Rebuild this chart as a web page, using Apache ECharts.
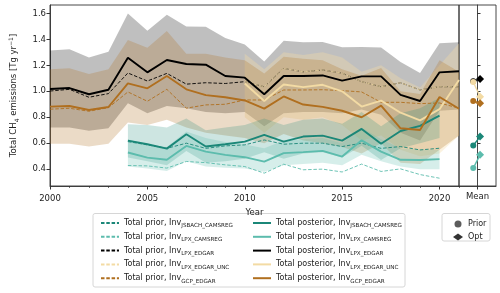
<!DOCTYPE html>
<html><head><meta charset="utf-8">
<script src="https://cdn.jsdelivr.net/npm/echarts@6/dist/echarts.min.js"></script>
<style>html,body{margin:0;padding:0;background:#fff}#c{width:500px;height:293px}</style>
</head><body><div id="c"></div>
<script>
// ---------- data ----------
const yearsAll  = [2000,2001,2002,2003,2004,2005,2006,2007,2008,2009,2010,2011,2012,2013,2014,2015,2016,2017,2018,2019,2020,2021];
const yearsTeal = [2004,2005,2006,2007,2008,2009,2010,2011,2012,2013,2014,2015,2016,2017,2018,2019,2020];
const yearsUnc  = [2010,2011,2012,2013,2014,2015,2016,2017,2018,2019,2020,2021];

// Inv JSBACH_CAMSREG
const jsbPrior = [0.612,0.587,0.560,0.600,0.560,0.579,0.587,0.625,0.592,0.600,0.600,0.574,0.600,0.560,0.574,0.548,0.561];
const jsbPost  = [0.620,0.592,0.558,0.669,0.574,0.592,0.612,0.664,0.612,0.651,0.658,0.620,0.710,0.596,0.694,0.734,0.812];
const jsbLo    = [0.490,0.460,0.430,0.540,0.450,0.460,0.480,0.530,0.480,0.520,0.530,0.490,0.580,0.470,0.560,0.600,0.640];
const jsbHi    = [0.745,0.740,0.720,0.790,0.700,0.720,0.740,0.790,0.740,0.780,0.790,0.750,0.840,0.730,0.830,0.870,0.950];
// Inv LPX_CAMSREG
const lpcPrior = [0.428,0.425,0.408,0.459,0.450,0.433,0.420,0.369,0.438,0.395,0.400,0.378,0.439,0.382,0.402,0.358,0.330];
const lpcPost  = [0.528,0.489,0.472,0.579,0.535,0.510,0.492,0.458,0.523,0.531,0.541,0.497,0.622,0.535,0.472,0.470,0.477];
const lpcLo    = [0.420,0.405,0.385,0.460,0.420,0.410,0.405,0.380,0.430,0.440,0.450,0.430,0.510,0.460,0.420,0.400,0.400];
const lpcHi    = [0.630,0.590,0.570,0.690,0.640,0.610,0.590,0.560,0.620,0.630,0.640,0.600,0.720,0.630,0.560,0.550,0.550];
// Inv LPX_EDGAR
const lpePrior = [1.002,1.015,0.954,0.982,1.141,1.079,1.138,1.055,1.066,1.060,1.074,1.035,1.177,1.150,1.164,1.140,1.074,1.035,1.066,1.010,1.035,1.035];
const lpePost  = [1.018,1.025,0.977,1.012,1.258,1.146,1.241,1.210,1.205,1.118,1.105,0.977,1.118,1.118,1.122,1.082,1.115,1.115,0.972,0.925,1.146,1.154];
const lpeLo    = [0.720,0.720,0.695,0.715,0.908,0.830,0.887,0.870,0.840,0.830,0.840,0.730,0.830,0.840,0.840,0.830,0.860,0.820,0.680,0.620,0.850,0.860];
const lpeHi    = [1.315,1.323,1.260,1.305,1.600,1.466,1.590,1.500,1.497,1.410,1.360,1.230,1.390,1.378,1.380,1.340,1.342,1.338,1.225,1.140,1.370,1.377];
// Inv LPX_EDGAR_UNC
const uncPrior = [1.074,1.035,1.177,1.150,1.164,1.140,1.074,1.035,1.066,1.010,1.035,1.035];
const uncPost  = [1.060,0.925,1.052,1.032,1.050,1.000,0.882,0.928,0.835,0.776,0.862,1.087];
const uncLo    = [0.800,0.680,0.800,0.780,0.800,0.740,0.620,0.660,0.550,0.500,0.520,0.660];
const uncHi    = [1.290,1.170,1.300,1.280,1.300,1.260,1.150,1.200,1.100,1.030,1.200,1.370];
// Inv GCP_EDGAR
const gcpPrior = [0.862,0.869,0.846,0.874,0.995,0.923,1.015,0.870,0.895,0.900,0.933,0.933,1.010,1.010,1.012,1.005,0.995,0.915,0.915,0.905,0.910,0.870];
const gcpPost  = [0.882,0.887,0.856,0.879,1.061,1.023,1.118,1.015,0.970,0.954,0.929,0.866,0.960,0.898,0.880,0.850,0.800,0.889,0.715,0.702,0.956,0.865];
const gcpLo    = [0.595,0.595,0.574,0.595,0.760,0.740,0.780,0.720,0.680,0.660,0.640,0.600,0.670,0.620,0.600,0.570,0.520,0.600,0.450,0.440,0.550,0.660];
const gcpHi    = [1.170,1.177,1.133,1.170,1.395,1.335,1.464,1.290,1.290,1.260,1.240,1.138,1.266,1.250,1.240,1.170,1.120,1.180,1.000,0.980,1.240,1.150];

// means panel (prior, optimised)
const meanPrior = {jsb:0.582, lpc:0.408, lpe:1.078, unc:1.072, gcp:0.925};
const meanOpt   = {jsb:0.651, lpc:0.510, lpe:1.095, unc:0.958, gcp:0.908};

const yTicks = [0.4,0.6,0.8,1.0,1.2,1.4,1.6];
const xTicks = [2000,2005,2010,2015,2020];
const subNames = {jsb:'JSBACH_CAMSREG', lpc:'LPX_CAMSREG', lpe:'LPX_EDGAR', unc:'LPX_EDGAR_UNC', gcp:'GCP_EDGAR'};

// ---------- styles ----------
const COL = {jsb:'#1b8778', lpc:'#5cbcad', lpe:'#000000', unc:'#f3dba4', gcp:'#b06f1f'};
const BAND = {jsb:'rgba(27,135,120,0.22)', lpc:'rgba(92,188,173,0.25)', lpe:'rgba(0,0,0,0.25)', unc:'rgba(243,219,164,0.35)', gcp:'rgba(176,111,31,0.25)'};
const FONT = 'DejaVu Sans';

function zip(xs, ys){ return xs.map((x,i)=>[x, ys[i]]); }
function band(xs, lo, hi, color, z){
  return {type:'custom', xAxisIndex:0, yAxisIndex:0, z:z, silent:true, clip:true,
    data: xs.map((x,i)=>[x, lo[i], hi[i]]),
    encode:{x:0, y:[1,2]},
    renderItem: function(params, api){
      if (params.dataIndex !== 0) return null;
      const pts = [];
      for (let i=0;i<xs.length;i++) pts.push(api.coord([xs[i], hi[i]]));
      for (let i=xs.length-1;i>=0;i--) pts.push(api.coord([xs[i], lo[i]]));
      return {type:'polygon', shape:{points:pts}, style:{fill:color}};
    }};
}
function priorLine(name, xs, ys, color, z){
  return {name:name, type:'line', xAxisIndex:0, yAxisIndex:0, data:zip(xs,ys), symbol:'none', z:z,
    lineStyle:{color:color, width:0.9, type:[3.5,1.8]}, itemStyle:{color:color}};
}
function postLine(name, xs, ys, color, z){
  return {name:name, type:'line', xAxisIndex:0, yAxisIndex:0, data:zip(xs,ys), symbol:'none', z:z,
    lineStyle:{color:color, width:1.9}, itemStyle:{color:color}};
}
function meanLine(key, z){
  return {type:'line', xAxisIndex:2, yAxisIndex:1, z:z, silent:true,
    data:[{value:[-0.23, meanPrior[key]], symbol:'circle', symbolSize:6},
          {value:[0.14, meanOpt[key]], symbol:'diamond', symbolSize:8}],
    lineStyle:{color:COL[key], width:1.4}, itemStyle:{color:COL[key]}};
}

const keys = ['jsb','lpc','lpe','unc','gcp'];
const xsOf = {jsb:yearsTeal, lpc:yearsTeal, lpe:yearsAll, unc:yearsUnc, gcp:yearsAll};
const dat = {
  jsb:{pr:jsbPrior, po:jsbPost, lo:jsbLo, hi:jsbHi},
  lpc:{pr:lpcPrior, po:lpcPost, lo:lpcLo, hi:lpcHi},
  lpe:{pr:lpePrior, po:lpePost, lo:lpeLo, hi:lpeHi},
  unc:{pr:uncPrior, po:uncPost, lo:uncLo, hi:uncHi},
  gcp:{pr:gcpPrior, po:gcpPost, lo:gcpLo, hi:gcpHi}
};

const series = [];
series.push(band(yearsAll, lpeLo, lpeHi, BAND.lpe, 1));
series.push(band(yearsUnc, uncLo, uncHi, BAND.unc, 1));
series.push(band(yearsAll, gcpLo, gcpHi, BAND.gcp, 1));
series.push(band(yearsTeal, jsbLo, jsbHi, BAND.jsb, 1));
series.push(band(yearsTeal, lpcLo, lpcHi, BAND.lpc, 1));
keys.forEach((k)=>{ series.push(priorLine('p_'+k, xsOf[k], dat[k].pr, COL[k], 3)); });
keys.forEach((k)=>{ series.push(postLine('q_'+k, xsOf[k], dat[k].po, COL[k], 4)); });
['lpe','unc','gcp','jsb','lpc'].forEach((k,i)=>series.push(meanLine(k, 5+i)));
series.push({name:'Prior', type:'scatter', xAxisIndex:2, yAxisIndex:1, data:[], symbol:'circle', itemStyle:{color:'#333'}});
series.push({name:'Opt', type:'scatter', xAxisIndex:2, yAxisIndex:1, data:[], symbol:'diamond', itemStyle:{color:'#000'}});

const legendRich = {
  t:{fontSize:8, fontFamily:FONT, color:'#222', lineHeight:12},
  s:{fontSize:5.6, fontFamily:FONT, color:'#222', verticalAlign:'bottom', lineHeight:7}
};
function legendFmt(name){
  const k = name.slice(2);
  const lab = name[0]==='p' ? 'Total prior, Inv' : 'Total posterior, Inv';
  return '{t|'+lab+'}{s|'+subNames[k]+'}';
}

const axisLineStyle = {color:'#333', width:0.9};
const option = {
  animation:false,
  textStyle:{fontFamily:FONT},
  grid:[
    {left:39, top:5, width:420, height:181, show:true, borderColor:'#333', borderWidth:0.9, backgroundColor:'transparent'},
    {left:459, top:5, width:37, height:181, show:true, borderColor:'#333', borderWidth:0.9, backgroundColor:'transparent'}
  ],
  xAxis:[
    {type:'value', gridIndex:0, min:2000, max:2021, position:'bottom',
     axisLine:{show:true, lineStyle:axisLineStyle},
     axisTick:{show:true, length:3.5, customValues:xTicks, lineStyle:{color:'#333'}},
     axisLabel:{customValues:xTicks, formatter:function(v){return String(v);}, fontSize:8.5, color:'#222', margin:8, fontFamily:FONT},
     splitLine:{show:false},
     name:'Year', nameLocation:'middle', nameGap:18, nameTextStyle:{fontSize:8.5, color:'#222', fontFamily:FONT}},
    {type:'value', gridIndex:0, min:2000, max:2021, position:'bottom',
     axisLine:{show:false}, axisLabel:{show:false}, splitLine:{show:false},
     axisTick:{show:true, length:2, customValues:yearsAll, lineStyle:{color:'#333', width:0.7}}},
    {type:'value', gridIndex:1, min:-1, max:1, position:'bottom',
     axisLine:{show:true, lineStyle:axisLineStyle},
     axisTick:{show:true, length:3.5, customValues:[0], lineStyle:{color:'#333'}},
     axisLabel:{customValues:[0], formatter:function(){return 'Mean';}, fontSize:8.5, color:'#222', margin:6, fontFamily:FONT},
     splitLine:{show:false}}
  ],
  yAxis:[
    {type:'value', gridIndex:0, min:0.27, max:1.665,
     axisLine:{show:true, lineStyle:axisLineStyle},
     axisTick:{show:true, length:3.5, customValues:yTicks, lineStyle:{color:'#333'}},
     axisLabel:{customValues:yTicks, formatter:function(v){return v.toFixed(1);}, fontSize:8.5, color:'#222', margin:4, fontFamily:FONT},
     splitLine:{show:false},
     name:'Total CH{sb|4} emissions [Tg yr{sp|\u22121}]', nameLocation:'middle', nameGap:30,
     nameTextStyle:{fontSize:8.5, color:'#222', fontFamily:FONT, lineHeight:12,
       rich:{sb:{fontSize:6, color:'#222', fontFamily:FONT, verticalAlign:'bottom', lineHeight:7},
             sp:{fontSize:6, color:'#222', fontFamily:FONT, verticalAlign:'top', lineHeight:7}}}},
    {type:'value', gridIndex:1, min:0.27, max:1.665,
     axisLine:{show:true, lineStyle:axisLineStyle},
     axisTick:{show:true, inside:true, length:3, customValues:yTicks, lineStyle:{color:'#333'}},
     axisLabel:{show:false}, splitLine:{show:false}}
  ],
  legend:[
    {data:keys.map(k=>'p_'+k), orient:'vertical', left:95, top:214, itemWidth:18, itemHeight:8, itemGap:3.8, itemTextGap:6,
     itemStyle:{opacity:0}, formatter:legendFmt, textStyle:{rich:legendRich}},
    {data:keys.map(k=>'q_'+k), orient:'vertical', left:247, top:214, itemWidth:18, itemHeight:8, itemGap:3.8, itemTextGap:6,
     itemStyle:{opacity:0}, formatter:legendFmt, textStyle:{rich:legendRich}},
    {data:['Prior','Opt'], orient:'vertical', left:448, top:215, itemWidth:10, itemHeight:7, itemGap:5, itemTextGap:10,
     textStyle:{fontSize:8, color:'#222', fontFamily:FONT}}
  ],
  graphic:[
    {type:'rect', z:-1, shape:{x:93, y:213.5, width:312, height:73.5, r:2}, style:{fill:'#fff', stroke:'#d6d6d6', lineWidth:1}},
    {type:'rect', z:-1, shape:{x:442, y:213.5, width:48, height:27.5, r:2}, style:{fill:'#fff', stroke:'#d6d6d6', lineWidth:1}}
  ],
  series:series
};
const chart = echarts.init(document.getElementById('c'), null, {renderer:'canvas'});
chart.setOption(option);
</script></body></html>
